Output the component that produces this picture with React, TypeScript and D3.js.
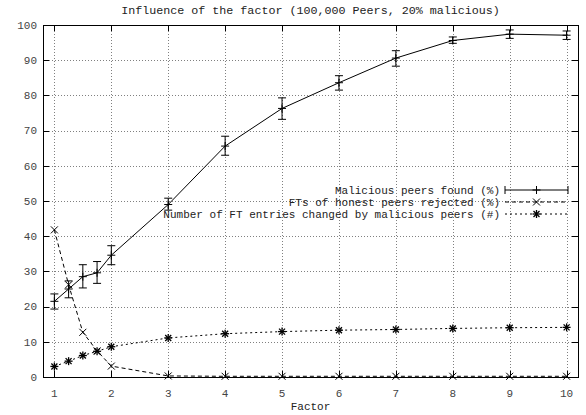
import React from "react";
import * as d3 from "d3";

// x positions (factor) shared by all three series
const factors = [1, 1.25, 1.5, 1.75, 2, 3, 4, 5, 6, 7, 8, 9, 10];

// Malicious peers found (%) with min/max error bounds
const maliciousFound = [21.5, 25, 28.5, 29.6, 34.6, 49, 65.6, 76.3, 83.6, 90.6, 95.6, 97.4, 97.1];
const maliciousLow = [19.3, 22.5, 25.3, 26.6, 31.9, 47.4, 63.0, 73.2, 81.5, 88.3, 94.8, 96.2, 95.9];
const maliciousHigh = [23.6, 27.3, 31.9, 32.8, 37.3, 50.8, 68.4, 79.3, 85.6, 92.7, 96.6, 98.6, 98.3];

// FTs of honest peers rejected (%)
const honestRejected = [41.8, 26.2, 12.7, 7.4, 3.1, 0.3, 0.2, 0.2, 0.2, 0.2, 0.2, 0.2, 0.2];

// Number of FT entries changed by malicious peers (#)
const ftChanged = [3.0, 4.5, 6.1, 7.3, 8.6, 11.1, 12.3, 12.9, 13.3, 13.5, 13.8, 14.0, 14.1];

const xTicks = [1, 2, 3, 4, 5, 6, 7, 8, 9, 10];
const yTicks = [0, 10, 20, 30, 40, 50, 60, 70, 80, 90, 100];

const titleText = "Influence of the factor (100,000 Peers, 20% malicious)";
const xLabel = "Factor";
const legendLabels = [
  "Malicious peers found (%)",
  "FTs of honest peers rejected (%)",
  "Number of FT entries changed by malicious peers (#)",
];

const W = 586;
const H = 415;
const left = 43;
const right = 578;
const top = 25;
const bottom = 377;
const FONT = "'Liberation Mono', 'DejaVu Sans Mono', monospace";

const x = d3.scaleLinear().domain([0.8, 10.2]).range([left, right]);
const y = d3.scaleLinear().domain([0, 100]).range([bottom, top]);

type Pt = [number, number];

function PlusMark({ cx, cy, s = 4 }: { cx: number; cy: number; s?: number }) {
  return (
    <g stroke="#000" strokeWidth={1}>
      <line x1={cx - s} x2={cx + s} y1={cy} y2={cy} />
      <line x1={cx} x2={cx} y1={cy - s} y2={cy + s} />
    </g>
  );
}

function CrossMark({ cx, cy, s = 3.5 }: { cx: number; cy: number; s?: number }) {
  return (
    <g stroke="#000" strokeWidth={1}>
      <line x1={cx - s} x2={cx + s} y1={cy - s} y2={cy + s} />
      <line x1={cx - s} x2={cx + s} y1={cy + s} y2={cy - s} />
    </g>
  );
}

function StarMark({ cx, cy }: { cx: number; cy: number }) {
  return (
    <g stroke="#000" strokeWidth={1.3}>
      <line x1={cx - 4} x2={cx + 4} y1={cy} y2={cy} />
      <line x1={cx} x2={cx} y1={cy - 4} y2={cy + 4} />
      <line x1={cx - 3} x2={cx + 3} y1={cy - 3} y2={cy + 3} />
      <line x1={cx - 3} x2={cx + 3} y1={cy + 3} y2={cy - 3} />
    </g>
  );
}

export default function App() {
  const line = d3.line<Pt>().x((d) => x(d[0])).y((d) => y(d[1]));
  const malPts: Pt[] = factors.map((f, i) => [f, maliciousFound[i]]);
  const honPts: Pt[] = factors.map((f, i) => [f, honestRejected[i]]);
  const ftPts: Pt[] = factors.map((f, i) => [f, ftChanged[i]]);

  const legendY = [190, 202, 214];
  const sampleL = 505;
  const sampleR = 568;
  const sampleC = (sampleL + sampleR) / 2;

  return (
    <svg
      width={W}
      height={H}
      style={{ position: "absolute", left: 0, top: 0, background: "#fff" }}
      fontFamily={FONT}
    >
      <rect x={0} y={0} width={W} height={H} fill="#fff" />

      {/* grid */}
      <g stroke="#808080" strokeWidth={1} strokeDasharray="1,2">
        {yTicks
          .filter((t) => t > 0 && t < 100)
          .map((t) => (
            <line key={"gy" + t} x1={left} x2={right} y1={Math.round(y(t)) + 0.5} y2={Math.round(y(t)) + 0.5} />
          ))}
        {xTicks.map((t) => (
          <line key={"gx" + t} x1={Math.round(x(t)) + 0.5} x2={Math.round(x(t)) + 0.5} y1={top} y2={bottom} />
        ))}
      </g>

      {/* ticks (inside, mirrored) */}
      <g stroke="#000" strokeWidth={1}>
        {yTicks.map((t) => {
          const yy = Math.round(y(t)) + 0.5;
          return (
            <g key={"ty" + t}>
              <line x1={left} x2={left + 6} y1={yy} y2={yy} />
              <line x1={right - 6} x2={right} y1={yy} y2={yy} />
            </g>
          );
        })}
        {xTicks.map((t) => {
          const xx = Math.round(x(t)) + 0.5;
          return (
            <g key={"tx" + t}>
              <line x1={xx} x2={xx} y1={bottom - 6} y2={bottom} />
              <line x1={xx} x2={xx} y1={top} y2={top + 6} />
            </g>
          );
        })}
      </g>

      {/* border */}
      <rect x={left + 0.5} y={top + 0.5} width={right - left} height={bottom - top} fill="none" stroke="#000" strokeWidth={1} />

      {/* tick labels */}
      <g fontSize={11} fill="#444">
        {yTicks.map((t) => (
          <text key={"ly" + t} x={37} y={y(t)} dy="0.35em" textAnchor="end">
            {t}
          </text>
        ))}
        {xTicks.map((t) => (
          <text key={"lx" + t} x={x(t)} y={393} dy="0.35em" textAnchor="middle">
            {t}
          </text>
        ))}
      </g>

      <text x={(left + right) / 2} y={10} dy="0.35em" textAnchor="middle" fontSize={11.7} fill="#222">
        {titleText}
      </text>
      <text x={(left + right) / 2} y={406} dy="0.35em" textAnchor="middle" fontSize={11} fill="#222">
        {xLabel}
      </text>

      {/* series: malicious found (solid with error bars) */}
      <path d={line(malPts) || ""} fill="none" stroke="#000" strokeWidth={1} />
      {factors.map((f, i) => {
        const cx = x(f);
        return (
          <g key={"eb" + i} stroke="#000" strokeWidth={1}>
            <line x1={cx} x2={cx} y1={y(maliciousLow[i])} y2={y(maliciousHigh[i])} />
            <line x1={cx - 4} x2={cx + 4} y1={y(maliciousLow[i])} y2={y(maliciousLow[i])} />
            <line x1={cx - 4} x2={cx + 4} y1={y(maliciousHigh[i])} y2={y(maliciousHigh[i])} />
          </g>
        );
      })}
      {malPts.map((d, i) => (
        <PlusMark key={"mp" + i} cx={x(d[0])} cy={y(d[1])} />
      ))}

      {/* series: honest rejected (dashed) */}
      <path d={line(honPts) || ""} fill="none" stroke="#000" strokeWidth={1} strokeDasharray="4,3" />
      {honPts.map((d, i) => (
        <CrossMark key={"hp" + i} cx={x(d[0])} cy={y(d[1])} />
      ))}

      {/* series: FT entries changed (dotted) */}
      <path d={line(ftPts) || ""} fill="none" stroke="#000" strokeWidth={1} strokeDasharray="2,3" />
      {ftPts.map((d, i) => (
        <StarMark key={"fp" + i} cx={x(d[0])} cy={y(d[1])} />
      ))}

      {/* legend */}
      <g fontSize={11} fill="#222">
        {legendLabels.map((l, i) => (
          <text key={"lg" + i} x={500} y={legendY[i]} dy="0.35em" textAnchor="end">
            {l}
          </text>
        ))}
      </g>
      <g stroke="#000" strokeWidth={1}>
        <line x1={sampleL} x2={sampleR} y1={legendY[0]} y2={legendY[0]} />
        <line x1={sampleL} x2={sampleL} y1={legendY[0] - 4} y2={legendY[0] + 4} />
        <line x1={sampleR} x2={sampleR} y1={legendY[0] - 4} y2={legendY[0] + 4} />
        <line x1={sampleL} x2={sampleR} y1={legendY[1]} y2={legendY[1]} strokeDasharray="4,3" />
        <line x1={sampleL} x2={sampleR} y1={legendY[2]} y2={legendY[2]} strokeDasharray="2,3" />
      </g>
      <PlusMark cx={sampleC} cy={legendY[0]} />
      <CrossMark cx={sampleC} cy={legendY[1]} />
      <StarMark cx={sampleC} cy={legendY[2]} />
    </svg>
  );
}
